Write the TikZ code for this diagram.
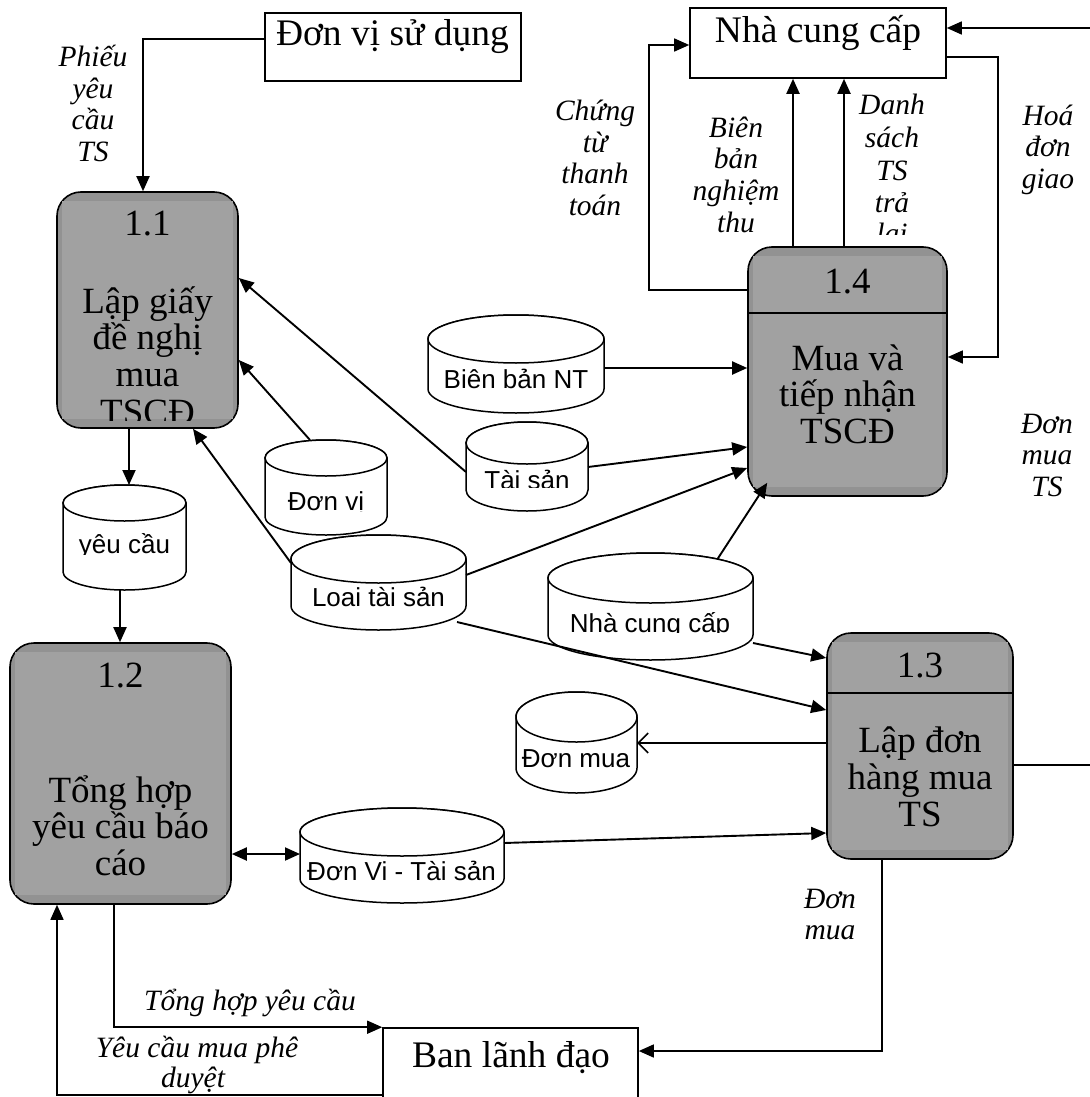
\documentclass[tikz,border=0pt]{standalone}
\usepackage{fontspec}
\setmainfont{Liberation Serif}
\newfontfamily\storefont{Liberation Sans}
\usetikzlibrary{arrows.meta}
\definecolor{procdark}{RGB}{146,146,146}
\definecolor{proclight}{RGB}{161,161,161}

% data store: name, left x, right x, top y, bottom y, radius of the end ellipse
\newcommand{\dstore}[6]{%
  \pgfmathsetmacro{\dsrx}{(#3-#2)/2}%
  \pgfmathsetmacro{\dscx}{(#3+#2)/2}%
  \pgfmathsetmacro{\dscy}{(#4+#5)/2}%
  \pgfmathsetmacro{\dsh}{#5-#4}%
  \pgfmathsetmacro{\dsw}{#3-#2}%
  \filldraw[storeline] (#2,#4+#6) -- (#2,#5-#6)
    arc[start angle=180,end angle=360,x radius=\dsrx pt,y radius=#6pt]
    -- (#3,#4+#6)
    arc[start angle=0,end angle=180,x radius=\dsrx pt,y radius=#6pt] -- cycle;
  \draw[storeline] (\dscx,#4+#6) ellipse[x radius=\dsrx pt,y radius=#6pt];
  \node[inner sep=0pt,outer sep=0pt,minimum width=\dsw pt,minimum height=\dsh pt] (#1) at (\dscx,\dscy) {};
}

\begin{document}
\begin{tikzpicture}[x=1pt,y=-1pt,
  proc/.style={draw,line width=1.6pt,rounded corners=24pt,fill=procdark,inner sep=0pt},
  ent/.style={draw,line width=1.6pt,fill=white,inner sep=0pt},
  storeline/.style={line width=1.5pt,fill=white},
  ptext/.style={anchor=base,inner sep=0pt,font=\fontsize{37}{37}\selectfont},
  etext/.style={anchor=base,inner sep=0pt,font=\fontsize{37.5}{37.5}\selectfont},
  ltext/.style={anchor=base,inner sep=0pt,font=\fontsize{29.5}{29.5}\selectfont\itshape},
  stext/.style={anchor=base,inner sep=0pt,font=\storefont\fontsize{26}{26}\selectfont},
  flow/.style={line width=1.9pt,-{Triangle[length=15pt,width=13pt]}},
  thin flow/.style={line width=1.5pt,-{Triangle[length=15pt,width=13pt]}},
  open flow/.style={line width=1.6pt,-{Straight Barb[length=10pt,width=20pt,line width=1.6pt]}},
  both flow/.style={line width=1.9pt,{Triangle[length=15pt,width=13pt]}-{Triangle[length=15pt,width=13pt]}}
]
\useasboundingbox (0,0) rectangle (1089,1097);

% ---------- external entities ----------
\node[ent,minimum width=256pt,minimum height=68pt] (E1) at (393,47) {};
\node[etext] (E1t) at (392.5,46) {Đơn vị sử dụng};
\node[ent,minimum width=256pt,minimum height=70pt] (E2) at (818,43) {};
\node[etext] (E2t) at (818,43) {Nhà cung cấp};
\node[ent,minimum width=255pt,minimum height=84pt] (E3) at (510.5,1070) {};
\node[etext] (E3t) at (511,1067) {Ban lãnh đạo};

% ---------- processes ----------
\node[proc,minimum width=181pt,minimum height=236pt] (p11) at (147.5,310) {};
\fill[proclight] ([shift={(6,10)}]p11.north west) rectangle ([shift={(-6,-10)}]p11.south east);
\node[ptext] (p11n) at (147.5,235) {1.1};
\begin{scope}
  \clip (57,192) rectangle (238,420);
  \node[ptext] (p11a) at (147.5,313) {Lập giấy};
  \node[ptext] (p11b) at (147.5,349.5) {đề nghị};
  \node[ptext] (p11c) at (147.5,386) {mua};
  \node[ptext] (p11d) at (147.5,424) {TSCĐ};
\end{scope}

\node[proc,minimum width=199pt,minimum height=249pt] (p14) at (847.5,371.5) {};
\fill[proclight] ([shift={(6,10)}]p14.north west) rectangle ([shift={(-6,-10)}]p14.south east);
\draw[line width=1.6pt] (p14.west |- 0,313) -- (p14.east |- 0,313);
\node[ptext] (p14n) at (847.5,293) {1.4};
\node[ptext] (p14a) at (847.5,370) {Mua và};
\node[ptext] (p14b) at (847.5,406.5) {tiếp nhận};
\node[ptext] (p14c) at (847.5,443) {TSCĐ};

\node[proc,minimum width=221pt,minimum height=261pt] (p12) at (120.5,773.5) {};
\fill[proclight] ([shift={(6,10)}]p12.north west) rectangle ([shift={(-6,-10)}]p12.south east);
\node[ptext] (p12n) at (120.5,687) {1.2};
\node[ptext] (p12a) at (120.5,802) {Tổng hợp};
\node[ptext] (p12b) at (120.5,838.5) {yêu cầu báo};
\node[ptext] (p12c) at (120.5,875) {cáo};

\node[proc,minimum width=186pt,minimum height=226pt] (p13) at (920,746) {};
\fill[proclight] ([shift={(6,10)}]p13.north west) rectangle ([shift={(-6,-10)}]p13.south east);
\draw[line width=1.6pt] (p13.west |- 0,693) -- (p13.east |- 0,693);
\node[ptext] (p13n) at (920,677) {1.3};
\node[ptext] (p13a) at (920,752) {Lập đơn};
\node[ptext] (p13b) at (920,789) {hàng mua};
\node[ptext] (p13c) at (920,826) {TS};

% ---------- data stores ----------
\dstore{yc}{63}{186}{485}{590}{18}
\begin{scope}\clip (63,485) rectangle (186,554);
  \node[stext] (yct) at (124.5,553) {yêu cầu};\end{scope}
\dstore{dv}{265}{387}{440}{535}{18}
\begin{scope}\clip (265,440) rectangle (387,511);
  \node[stext] (dvt) at (326,510) {Đơn vị};\end{scope}
\dstore{bb}{428}{604}{315}{413}{24}
\node[stext] (bbt) at (516,388) {Biên bản NT};
\dstore{ts}{466}{588}{422}{511}{21}
\begin{scope}\clip (466,422) rectangle (588,487);
  \node[stext] (tst) at (527,489) {Tài sản};\end{scope}
\dstore{lts}{291}{466}{535}{630}{24}
\begin{scope}\clip (291,535) rectangle (466,606);
  \node[stext] (ltst) at (378.5,606) {Loại tài sản};\end{scope}
\dstore{ncc}{548}{753}{553}{660}{25}
\begin{scope}\clip (548,553) rectangle (753,632);
  \node[stext] (ncct) at (650,632) {Nhà cung cấp};\end{scope}
\dstore{dm}{516}{637}{692}{793}{25}
\node[stext] (dmt) at (576,767) {Đơn mua};
\dstore{dvts}{300}{504}{808}{903}{24}
\node[stext] (dvtst) at (401.5,880) {Đơn Vi - Tài sản};

% ---------- flows ----------
\draw[flow] (E1.west |- 0,39) -| (p11.north -| 143,0);
\draw[flow] (p11.south -| 129,0) -- (yc.north -| 129,0);
\draw[flow] (yc.south -| 120,0) -- (p12.north -| 120,0);
\draw[flow] (ts.west |- 0,472) -- (p11.east |- 0,278);
\draw[flow] (dv.north -| 310,0) -- (p11.east |- 0,360);
\draw[flow] (lts.west |- 0,563) -- (p11.south -| 193,0);
\draw[flow] (bb.east |- 0,368) -- (p14.west |- 0,368);
\draw[flow] (ts.east |- 0,467) -- (p14.west |- 0,447);
\draw[flow] (lts.east |- 0,575) -- (p14.west |- 0,468);
\draw[flow] ([shift={(67,6)}]ncc.north) -- ([shift={(20,-14)}]p14.south west);
\draw[flow] (ncc.east |- 0,643) -- (p13.west |- 0,658);
\draw[flow] ([shift={(-9,-8)}]lts.south east) -- (p13.west |- 0,710);
\draw[open flow] (p13.west |- 0,743) -- (dm.east |- 0,743);
\draw[both flow] (p12.east |- 0,854) -- (dvts.west |- 0,854);
\draw[flow] (dvts.east |- 0,843) -- (p13.west |- 0,833);
\draw[flow] (p14.north -| 793,0) -- (E2.south -| 793,0);
\draw[flow] (p14.north -| 844,0) -- (E2.south -| 844,0);
\draw[thin flow] (p14.west |- 0,290) -- ++(-98,0) |- (E2.west |- 0,45);
\draw[thin flow] (E2.east |- 0,57) -- ++(51,0) |- (p14.east |- 0,357);
\draw[thin flow] (p13.east |- 0,765) -- ++(85,0) |- (E2.east |- 0,28);
\draw[thin flow] (p12.south -| 114,0) |- (E3.north west);
\draw[thin flow] (p13.south -| 882,0) |- (E3.east |- 0,1051);
\draw[thin flow] (E3.west |- 0,1095) -| (p12.south -| 57,0);

% ---------- flow labels ----------
\node[ltext] (l1a) at (93,67) {Phiếu};
\node[ltext] (l1b) at (93,98.5) {yêu};
\node[ltext] (l1c) at (93,130) {cầu};
\node[ltext] (l1d) at (93,161.5) {TS};

\node[ltext] (l2a) at (595,121) {Chứng};
\node[ltext] (l2b) at (595,152) {từ};
\node[ltext] (l2c) at (595,183) {thanh};
\node[ltext] (l2d) at (595,215) {toán};

\begin{scope}
  \clip (680,90) rectangle (940,234);
  \node[ltext] (l3a) at (736,137) {Biên};
  \node[ltext] (l3b) at (736,168) {bản};
  \node[ltext] (l3c) at (736,200) {nghiệm};
  \node[ltext] (l3d) at (736,232) {thu};
  \node[ltext] (l4a) at (892,115) {Danh};
  \node[ltext] (l4b) at (892,147) {sách};
  \node[ltext] (l4c) at (892,180) {TS};
  \node[ltext] (l4d) at (892,212) {trả};
  \node[ltext] (l4e) at (892,243) {lại};
\end{scope}

\node[ltext] (l5a) at (1048,126) {Hoá};
\node[ltext] (l5b) at (1048,157) {đơn};
\node[ltext] (l5c) at (1048,188) {giao};

\node[ltext] (l6a) at (1047,433) {Đơn};
\node[ltext] (l6b) at (1047,464) {mua};
\node[ltext] (l6c) at (1047,496) {TS};

\node[ltext] (l7a) at (830,908) {Đơn};
\node[ltext] (l7b) at (830,939) {mua};

\node[ltext] (l8) at (250,1010) {Tổng hợp yêu cầu};
\node[ltext] (l9a) at (197,1057) {Yêu cầu mua phê};
\node[ltext] (l9b) at (193,1087) {duyệt};
\end{tikzpicture}
\end{document}
